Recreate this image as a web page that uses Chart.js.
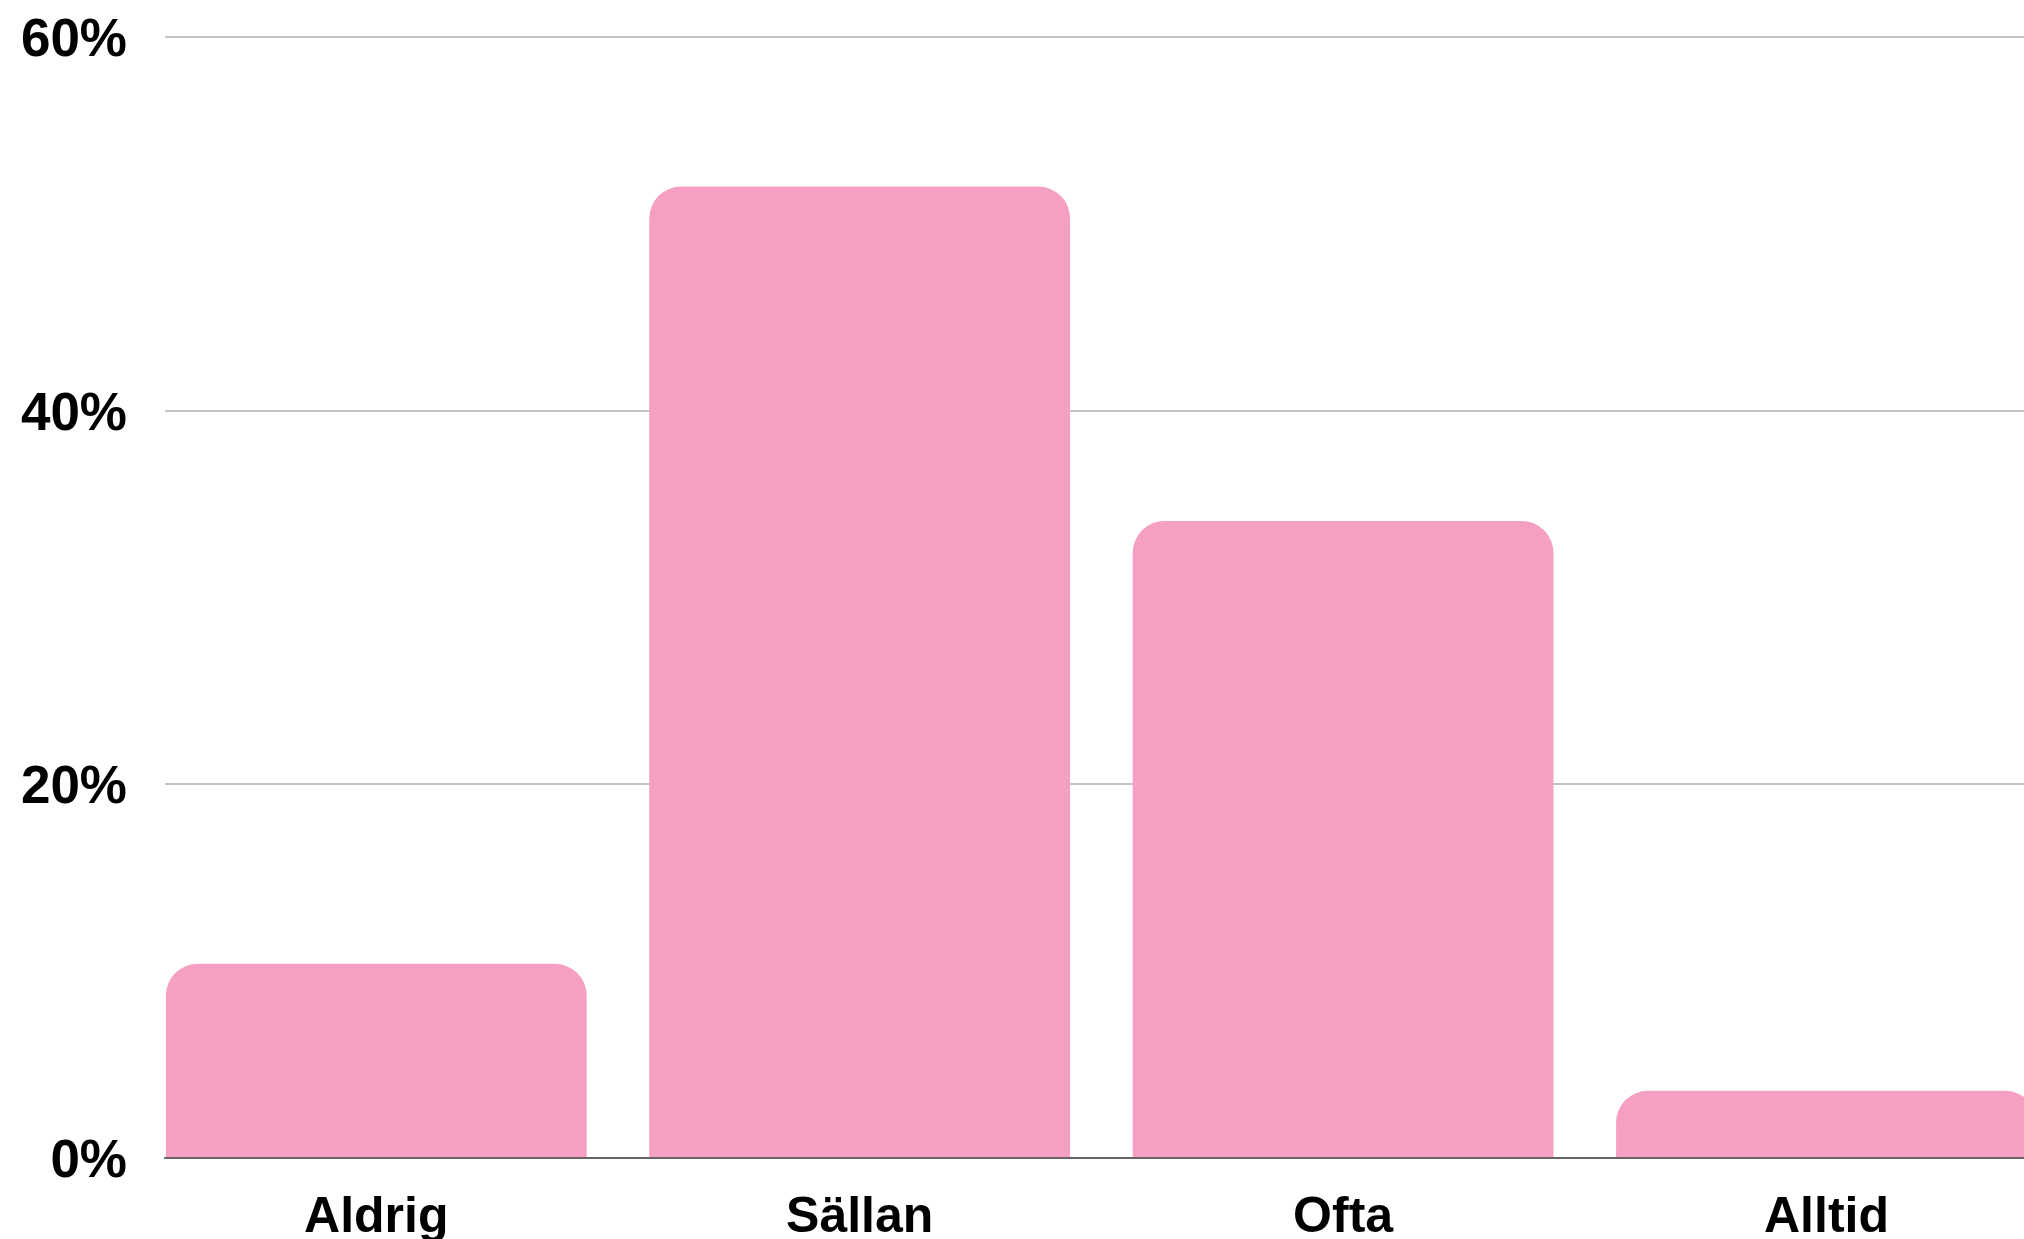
<!DOCTYPE html>
<html>
<head>
<meta charset="utf-8">
<script src="https://cdn.jsdelivr.net/npm/chart.js@4/dist/chart.umd.min.js"></script>
<style>
html,body{margin:0;padding:0;background:#fff;overflow:hidden;}
#wrap{width:2024px;height:1239px;}
</style>
</head>
<body>
<div id="wrap"><canvas id="c" width="2024" height="1239"></canvas></div>
<script>
const categories = ["Aldrig", "Sällan", "Ofta", "Alltid"];
const values = [10.4, 52.0, 34.1, 3.6];
const yTicks = [0, 20, 40, 60];

const FONT = "'Liberation Sans', Arial, sans-serif";
const points = categories.map((c, i) => ({ x: i, y: values[i] }));

new Chart(document.getElementById('c'), {
  type: 'bar',
  data: {
    datasets: [{
      data: points,
      backgroundColor: '#F5A0C2',
      borderWidth: 0,
      borderRadius: 32,
      borderSkipped: 'start',
      categoryPercentage: 1,
      barPercentage: 0.8705
    }]
  },
  options: {
    responsive: false,
    animation: false,
    layout: { padding: { top: 37, left: 0, right: 0, bottom: 0 } },
    plugins: { legend: { display: false }, tooltip: { enabled: false } },
    scales: {
      x: {
        type: 'linear',
        offset: false,
        min: -0.4371,
        max: 3.4086,
        z: 1,
        afterBuildTicks: (s) => { s.ticks = categories.map((c, i) => ({ value: i })); },
        afterFit: (s) => { s.height = 81; s.paddingLeft = 0; s.paddingRight = 0; },
        grid: { display: false, drawTicks: false },
        border: { display: true, color: 'rgba(70,70,70,0.75)', width: 2 },
        ticks: {
          autoSkip: false,
          maxRotation: 0,
          padding: 30,
          color: '#000',
          font: { family: FONT, size: 50, weight: 'bold' },
          callback: (v) => categories[v] !== undefined ? categories[v] : ''
        }
      },
      y: {
        min: 0,
        max: 60,
        afterBuildTicks: (s) => { s.ticks = yTicks.map(v => ({ value: v })); },
        afterFit: (s) => { s.width = 165; s.paddingTop = 0; s.paddingBottom = 0; },
        grid: { color: '#c4c4c4', lineWidth: 2, drawTicks: false },
        border: { display: false },
        ticks: {
          padding: 38,
          color: '#000',
          font: { family: FONT, size: 53, weight: 'bold', lineHeight: '9px' },
          callback: (v) => ['', v + '%']
        }
      }
    }
  }
});
</script>
</body>
</html>
